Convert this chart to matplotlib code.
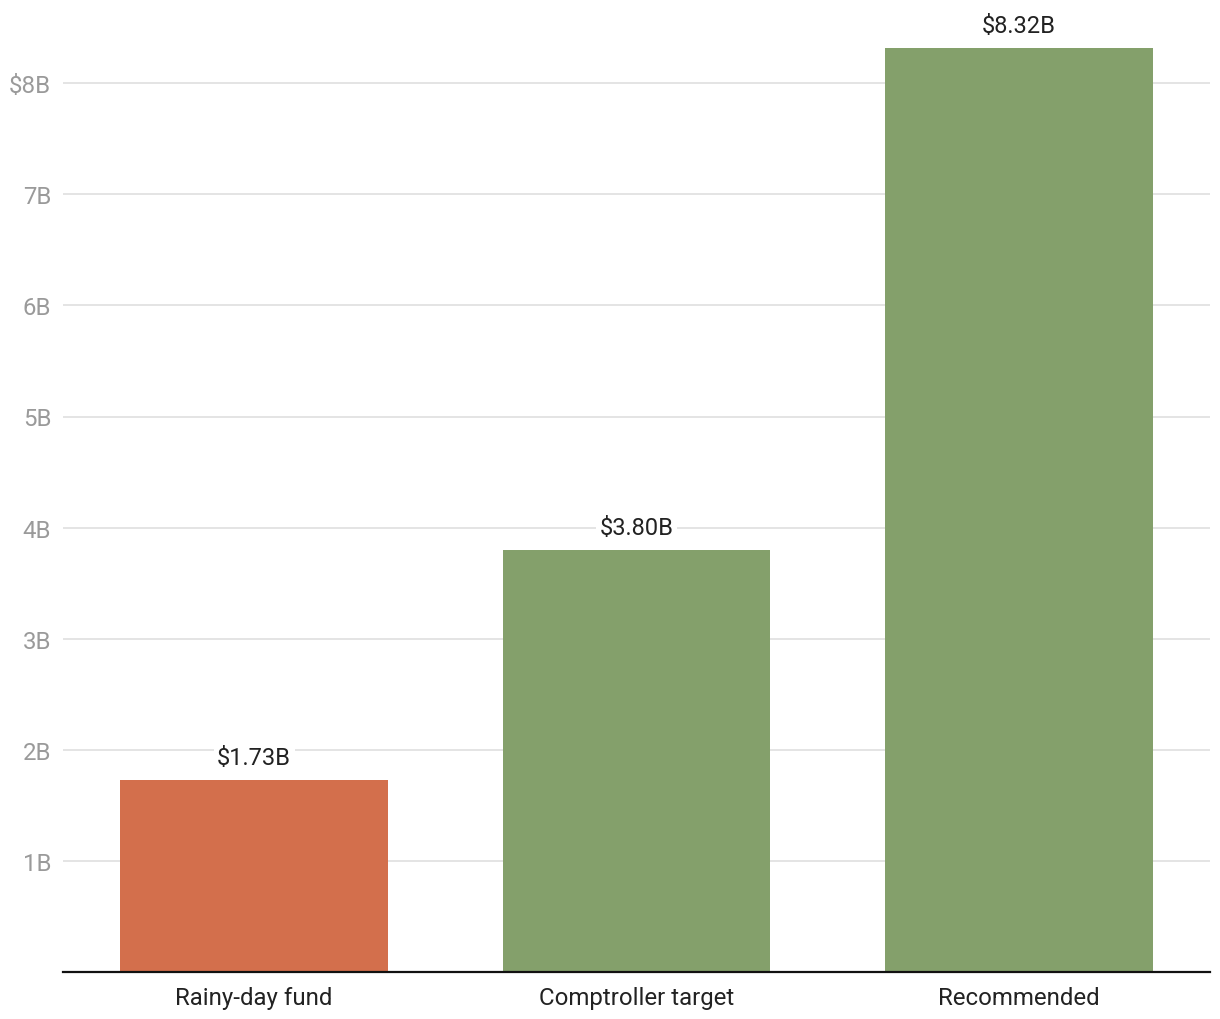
import matplotlib.pyplot as plt

plt.rcParams['font.family'] = ['Roboto', 'DejaVu Sans']

categories = ['Rainy-day fund', 'Comptroller target', 'Recommended']
values = [1.73, 3.80, 8.32]
labels = ['$1.73B', '$3.80B', '$8.32B']
colors = ['#d36f4c', '#84a06b', '#84a06b']
yticks = [1, 2, 3, 4, 5, 6, 7, 8]
ytick_labels = ['1B', '2B', '3B', '4B', '5B', '6B', '7B', '$8B']

fig = plt.figure(figsize=(12.2, 10.2), dpi=100)
ax = fig.add_axes([63 / 1220, 47 / 1020, 1147 / 1220, 973 / 1020])

x = range(len(categories))
bars = ax.bar(x, values, width=0.70, color=colors, zorder=2)

for xi, v, lab in zip(x, values, labels):
    ax.annotate(lab, (xi, v), xytext=(0, 8), textcoords='offset points',
                ha='center', va='bottom', fontsize=17, color='#222222', zorder=3,
                bbox=dict(boxstyle='square,pad=0.15', fc='white', ec='none'))

ax.set_xlim(-0.5, 2.5)
ax.set_ylim(0, 973 / 111.1)
ax.set_xticks(list(x))
ax.set_xticklabels(categories, fontsize=17.3, color='#222222')
ax.set_yticks(yticks)
ax.set_yticklabels(ytick_labels, fontsize=17.3, color='#9a9a9a')
ax.tick_params(axis='both', length=0)
ax.tick_params(axis='y', pad=8.5)
ax.tick_params(axis='x', pad=10)

ax.grid(axis='y', color='#e2e2e2', linewidth=1.3, zorder=0)
ax.set_axisbelow(True)
for s in ['top', 'right', 'left']:
    ax.spines[s].set_visible(False)
ax.spines['bottom'].set_color('#111111')
ax.spines['bottom'].set_linewidth(1.6)
ax.spines['bottom'].set_zorder(4)

fig.savefig('out.png', dpi=100)
